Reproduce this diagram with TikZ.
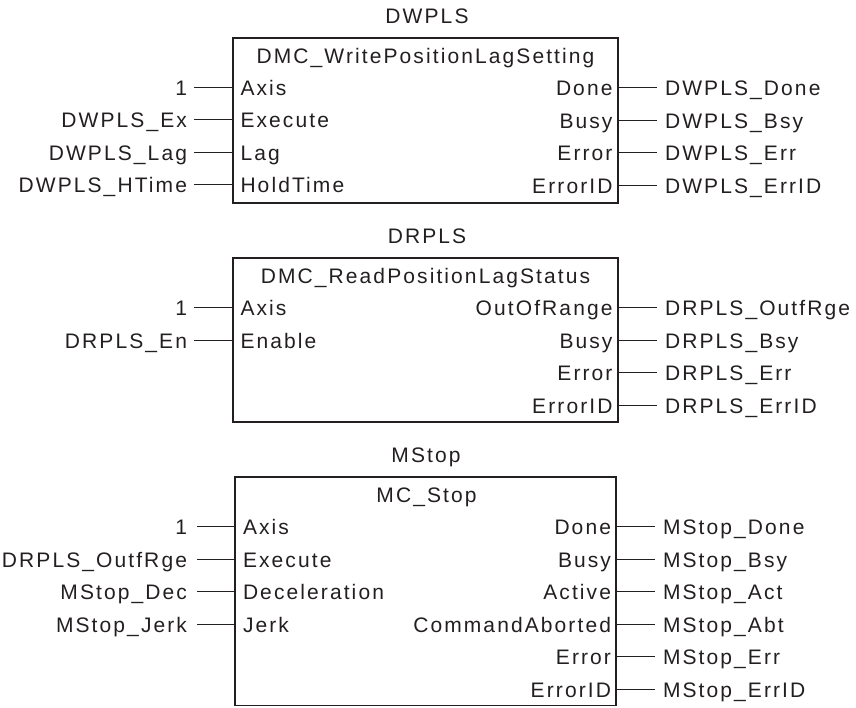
\documentclass[tikz,border=0pt]{standalone}
\usepackage{fontspec}
\setmainfont{Liberation Sans}[LetterSpace=10]
\definecolor{txt}{RGB}{35,31,32}
\begin{document}
\begin{tikzpicture}[x=1pt,y=-1pt,
  every node/.style={inner sep=0pt, outer sep=0pt, font=\fontsize{21}{24}\selectfont, text=txt},
  fbox/.style={draw=txt, line width=1.3pt, anchor=north west},
  wire/.style={draw=txt, line width=1pt}]
\useasboundingbox (0,0) rectangle (856,707);

% ---------- Block 1 : DWPLS ----------
\node[fbox, minimum width=385pt, minimum height=165pt] (b1) at (233,38) {};
\node[anchor=base] (t1) at (427,23) {DWPLS};
\node[anchor=base] (f1) at (425.5,63.5) {DMC\_WritePositionLagSetting};
\foreach \y/\v/\p [count=\k] in {87/1/Axis, 119.5/DWPLS\_Ex/Execute, 152/DWPLS\_Lag/Lag, 184.5/DWPLS\_HTime/HoldTime}{
  \node[anchor=base east] (b1iv\k) at (187,\y+8) {\v};
  \node[anchor=base west] (b1ip\k) at (240.5,\y+8) {\p};
  \coordinate (b1is\k) at (194,\y);
  \draw[wire] (b1is\k) -- (b1is\k -| b1.west);
}
\foreach \y/\p/\v [count=\k] in {87.5/Done/DWPLS\_Done, 120/Busy/DWPLS\_Bsy, 152.5/Error/DWPLS\_Err, 185/ErrorID/DWPLS\_ErrID}{
  \node[anchor=base east] (b1op\k) at (612.5,\y+8) {\p};
  \node[anchor=base west] (b1ov\k) at (665,\y+8) {\v};
  \coordinate (b1oe\k) at (657,\y);
  \draw[wire] (b1oe\k -| b1.east) -- (b1oe\k);
}

% ---------- Block 2 : DRPLS ----------
\node[fbox, minimum width=385pt, minimum height=164pt] (b2) at (233,258) {};
\node[anchor=base] (t2) at (427,243) {DRPLS};
\node[anchor=base] (f2) at (425.5,283.5) {DMC\_ReadPositionLagStatus};
\foreach \y/\v/\p [count=\k] in {307.5/1/Axis, 340/DRPLS\_En/Enable}{
  \node[anchor=base east] (b2iv\k) at (187,\y+8) {\v};
  \node[anchor=base west] (b2ip\k) at (240.5,\y+8) {\p};
  \coordinate (b2is\k) at (194,\y);
  \draw[wire] (b2is\k) -- (b2is\k -| b2.west);
}
\foreach \y/\p/\v [count=\k] in {307.5/OutOfRange/DRPLS\_OutfRge, 340/Busy/DRPLS\_Bsy, 372.5/Error/DRPLS\_Err, 405/ErrorID/DRPLS\_ErrID}{
  \node[anchor=base east] (b2op\k) at (612.5,\y+8) {\p};
  \node[anchor=base west] (b2ov\k) at (665,\y+8) {\v};
  \coordinate (b2oe\k) at (657,\y);
  \draw[wire] (b2oe\k -| b2.east) -- (b2oe\k);
}

% ---------- Block 3 : MStop ----------
\node[fbox, minimum width=381pt, minimum height=228.5pt] (b3) at (235,477) {};
\node[anchor=base] (t3) at (426,462) {MStop};
\node[anchor=base] (f3) at (426.5,502.5) {MC\_Stop};
\foreach \y/\v/\p [count=\k] in {526.5/1/Axis, 559/DRPLS\_OutfRge/Execute, 591.5/MStop\_Dec/Deceleration, 624/MStop\_Jerk/Jerk}{
  \node[anchor=base east] (b3iv\k) at (187,\y+8) {\v};
  \node[anchor=base west] (b3ip\k) at (243,\y+8) {\p};
  \coordinate (b3is\k) at (197,\y);
  \draw[wire] (b3is\k) -- (b3is\k -| b3.west);
}
\foreach \y/\p/\v [count=\k] in {526.5/Done/MStop\_Done, 559/Busy/MStop\_Bsy, 591.5/Active/MStop\_Act, 624/CommandAborted/MStop\_Abt, 656.5/Error/MStop\_Err, 689/ErrorID/MStop\_ErrID}{
  \node[anchor=base east] (b3op\k) at (611,\y+8) {\p};
  \node[anchor=base west] (b3ov\k) at (663,\y+8) {\v};
  \coordinate (b3oe\k) at (655,\y);
  \draw[wire] (b3oe\k -| b3.east) -- (b3oe\k);
}
\end{tikzpicture}
\end{document}
